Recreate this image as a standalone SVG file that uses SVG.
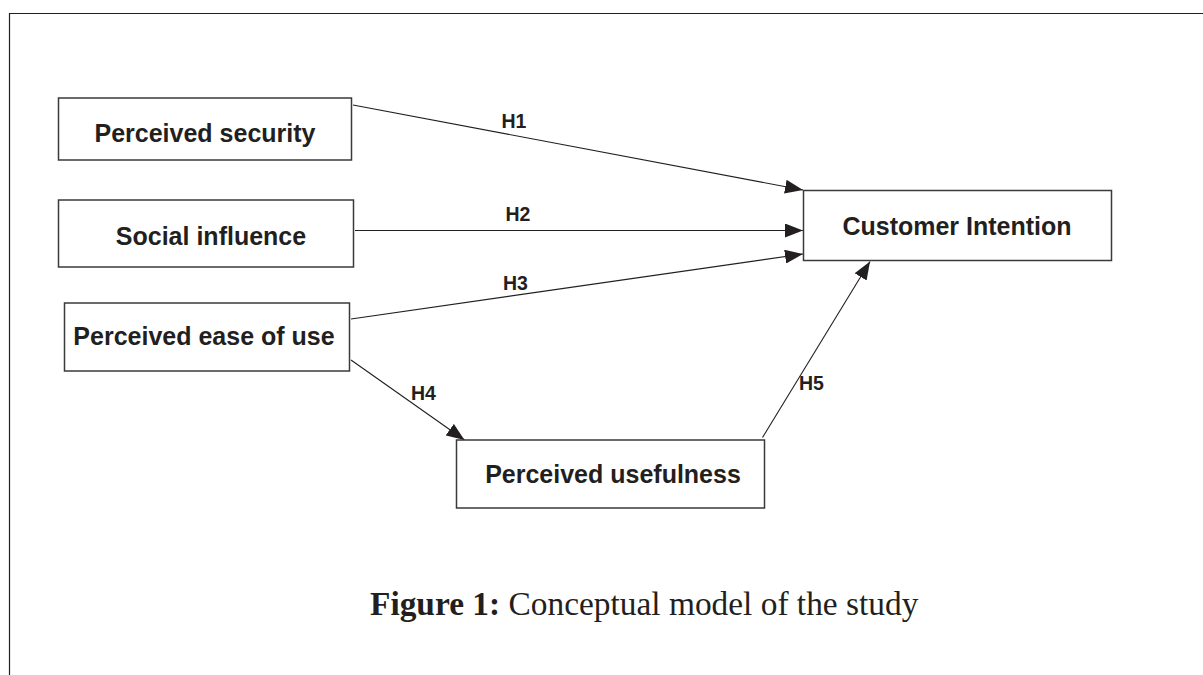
<svg xmlns="http://www.w3.org/2000/svg" width="1203" height="675" viewBox="0 0 1203 675">
<style>
.box{fill:#fff;stroke:#3a3a3a;stroke-width:1.5}
.lbl{font-family:"Liberation Sans",Arial,sans-serif;font-weight:bold;font-size:25px;fill:#231f20;text-anchor:middle}
.h{font-family:"Liberation Sans",Arial,sans-serif;font-weight:bold;font-size:19.5px;fill:#231f20}
.edge{stroke:#231f20;stroke-width:1.1;fill:none;marker-end:url(#arr)}
.cap{font-family:"Liberation Serif","Times New Roman",serif;font-size:33.4px;fill:#231f20}
</style>
<defs>
<marker id="arr" markerWidth="18" markerHeight="14" refX="18" refY="7" orient="auto" markerUnits="userSpaceOnUse">
<path d="M0,0 L18,7 L0,14 z" fill="#231f20"/>
</marker>
</defs>
<rect width="1203" height="675" fill="#fff"/>
<path d="M1203,13.5 H9.5 V675" fill="none" stroke="#231f20" stroke-width="1.2"/>
<g id="connectors">
<line class="edge" x1="353" y1="105" x2="803" y2="190"/>
<line class="edge" x1="355" y1="230.5" x2="803" y2="230.5"/>
<line class="edge" x1="351" y1="319" x2="803" y2="254"/>
<line class="edge" x1="351" y1="360" x2="464.5" y2="440"/>
<line class="edge" x1="762.5" y1="437.5" x2="870" y2="261.5"/>
<text class="h" x="501.5" y="127.5">H1</text>
<text class="h" x="505.5" y="221">H2</text>
<text class="h" x="503" y="289.5">H3</text>
<text class="h" x="411" y="400">H4</text>
<text class="h" x="799" y="390">H5</text>
</g>
<g id="n1"><rect class="box" x="58.5" y="98" width="293" height="62"/><text class="lbl" x="205" y="142">Perceived security</text></g>
<g id="n2"><rect class="box" x="58.5" y="200" width="295" height="67"/><text class="lbl" x="211" y="245">Social influence</text></g>
<g id="n3"><rect class="box" x="64.5" y="303" width="285" height="68"/><text class="lbl" x="204" y="345">Perceived ease of use</text></g>
<g id="n4"><rect class="box" x="803.5" y="190.5" width="308" height="70"/><text class="lbl" x="957" y="235">Customer Intention</text></g>
<g id="n5"><rect class="box" x="456.5" y="440" width="308" height="68"/><text class="lbl" x="613" y="482.5">Perceived usefulness</text></g>
<text class="cap" x="370" y="614.5"><tspan font-weight="bold">Figure 1:</tspan> Conceptual model of the study</text>
</svg>
